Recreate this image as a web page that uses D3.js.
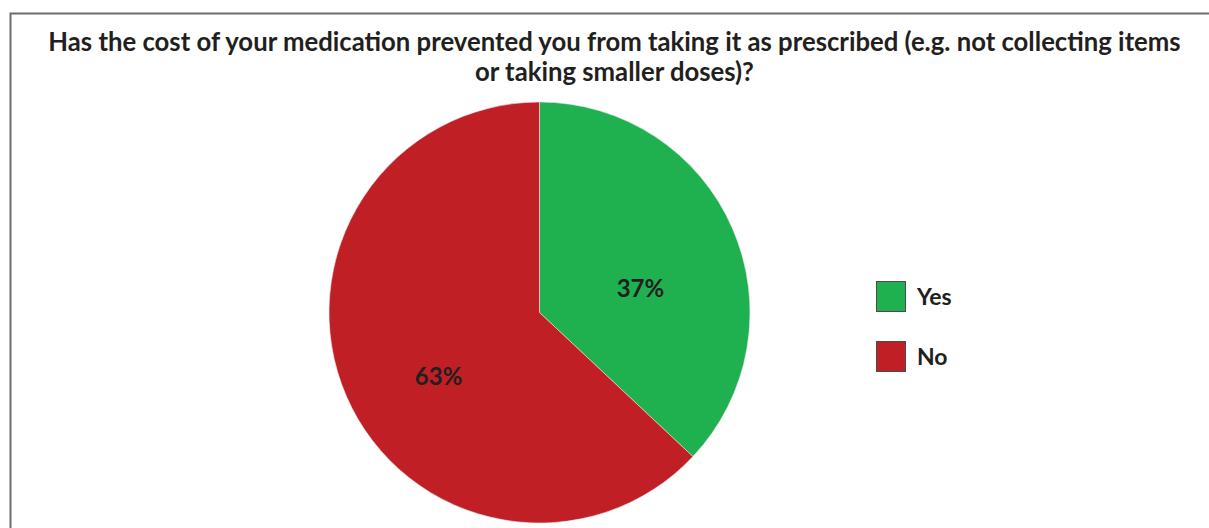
<!DOCTYPE html>
<html>
<head>
<meta charset="utf-8">
<script src="https://cdn.jsdelivr.net/npm/d3@7"></script>
<style>
  body { margin: 0; background: #fff; }
  svg { display: block; font-family: 'Lato', 'Noto Sans', sans-serif; }
</style>
</head>
<body>
<div id="chart"></div>
<script>
// data
const categories = ['Yes', 'No']
const values = [37, 63]
const colors = ['#1fb04f', '#c01f25']
const titleLines = [
  'Has the cost of your medication prevented you from taking it as prescribed (e.g. not collecting items',
  'or taking smaller doses)?'
]

const width = 1209
const height = 528
const textColor = '#231f20'

const svg = d3.select('#chart')
  .append('svg')
  .attr('width', width)
  .attr('height', height)

// frame (right and bottom edges fall outside the picture)
svg.append('rect')
  .attr('x', 10.5)
  .attr('y', 13.5)
  .attr('width', width + 20)
  .attr('height', height + 20)
  .attr('fill', 'none')
  .attr('stroke', '#6d6d6d')
  .attr('stroke-width', 2)

// title, sized so the first line spans the same width as the reference
const title = svg.append('g')
titleLines.forEach((line, i) => {
  title.append('text')
    .attr('x', 614.5)
    .attr('y', 51 + i * 30)
    .attr('text-anchor', 'middle')
    .attr('fill', textColor)
    .style('font-size', '23px')
    .style('font-weight', 'bold')
    .text(line)
})
const firstLine = title.select('text').node()
const fit = 23 * 1133 / firstLine.getComputedTextLength()
title.selectAll('text').style('font-size', `${fit}px`)

// pie
const cx = 539.5
const cy = 312.5
const radius = 210.5

const pie = d3.pie().sort(null).value(d => d.value)
const arcs = pie(categories.map((c, i) => ({ category: c, value: values[i] })))

const arc = d3.arc().innerRadius(0).outerRadius(radius)
const labelArc = d3.arc().innerRadius(110).outerRadius(110)

const color = d3.scaleOrdinal().domain(categories).range(colors)

const g = svg.append('g')
  .attr('transform', `translate(${cx},${cy})`)

g.selectAll('path')
  .data(arcs)
  .join('path')
  .attr('d', arc)
  .attr('fill', d => color(d.data.category))
  .attr('stroke', '#e8e8e8')
  .attr('stroke-width', 0.6)

g.selectAll('text')
  .data(arcs)
  .join('text')
  .attr('transform', d => {
    const [x, y] = labelArc.centroid(d)
    return `translate(${x},${y + 20})`
  })
  .attr('text-anchor', 'middle')
  .attr('dy', '0.35em')
  .attr('fill', textColor)
  .style('font-size', '24px')
  .style('font-weight', 'bold')
  .text(d => `${d.data.value}%`)

// legend
const legend = svg.append('g')
  .attr('transform', 'translate(876, 281)')

categories.forEach((c, i) => {
  const row = legend.append('g')
    .attr('transform', `translate(0, ${i * 60})`)

  row.append('rect')
    .attr('x', 0.5)
    .attr('y', 0.5)
    .attr('width', 29)
    .attr('height', 30)
    .attr('fill', color(c))
    .attr('stroke', '#4a4a4a')
    .attr('stroke-width', 1)

  row.append('text')
    .attr('x', 41)
    .attr('y', 24)
    .attr('fill', textColor)
    .style('font-size', '23px')
    .style('font-weight', 'bold')
    .text(c)
})
</script>
</body>
</html>
